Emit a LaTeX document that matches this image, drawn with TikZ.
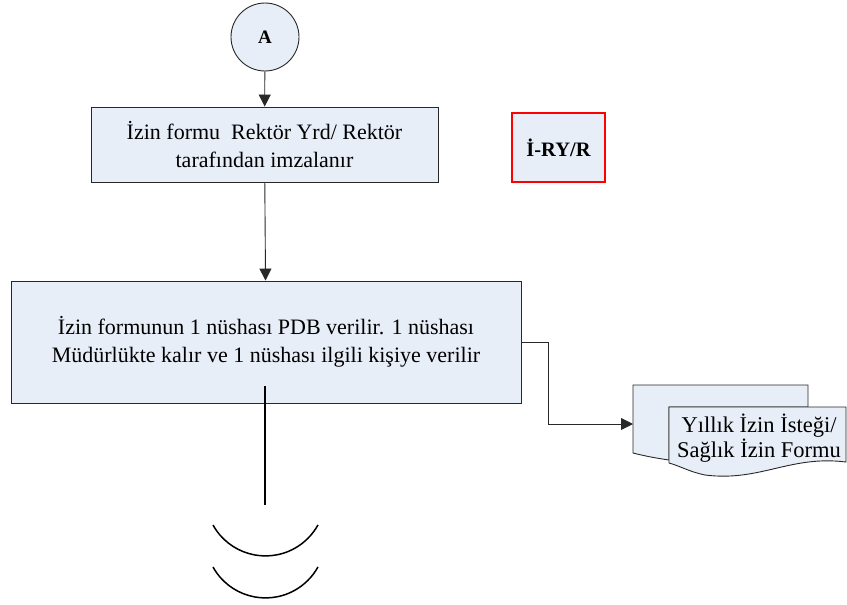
\documentclass[tikz,border=0pt]{standalone}
\usepackage{fontspec}
\setmainfont{Liberation Serif}
\usetikzlibrary{arrows.meta,calc}
\definecolor{boxfill}{RGB}{232,238,248}
\definecolor{lineclr}{RGB}{40,40,40}
\tikzset{
  x=1pt, y=-1pt,
  txt/.style={font=\fontsize{22}{27.5}\selectfont, align=center},
  procbox/.style={draw=lineclr, fill=boxfill, line width=0.9pt, inner sep=0pt, txt},
  redbox/.style={draw=red, fill=boxfill, line width=2.6pt, inner sep=0pt, font=\fontsize{20.5}{26}\selectfont\bfseries},
  conn/.style={draw=lineclr, line width=0.9pt, -{Triangle[length=12pt,width=12pt]}},
  plainline/.style={draw=black, line width=1.8pt},
  docshape/.style={draw=lineclr, fill=boxfill, line width=0.9pt},
}
\begin{document}
\begin{tikzpicture}
\useasboundingbox (0,0) rectangle (847,605);
% start connector
\node[circle, draw=lineclr, fill=boxfill, line width=0.9pt, minimum size=68pt, inner sep=0pt,
      font=\fontsize{19}{22}\selectfont\bfseries] (A) at (265,37) {A};
\node[procbox, minimum width=347pt, minimum height=75pt] (b1) at (264.5,144.5)
  {İzin formu\ \ Rektör Yrd/ Rektör\\tarafından imzalanır};
\node[redbox, minimum width=93pt, minimum height=69pt] (r) at (558.5,147.5) {İ-RY/R};
\node[procbox, minimum width=510pt, minimum height=122pt] (b2) at (266,342)
  {İzin formunun 1 nüshası PDB verilir. 1 nüshası\\Müdürlükte kalır ve 1 nüshası ilgili kişiye verilir};
% multi-document
\path[docshape] (633,385) -- (808,385) -- (808,407) -- (669,407) -- (669,460)
   .. controls (655,458) and (645,456) .. (633,453) -- cycle;
\path[docshape] (669,407) -- (846,407) -- (846,462)
   .. controls (790,455) and (760,482) .. (705,475)
   .. controls (690,472) and (680,466) .. (669,463) -- cycle;
\node[txt, font=\fontsize{22.5}{25}\selectfont] (doc) at (759,438) {Yıllık İzin İsteği/\\Sağlık İzin Formu};
\coordinate (docin) at (633,424);
% connectors
\draw[conn] (A) -- (b1);
\draw[conn] (b1) -- (b2);
\draw[conn] (b2.east) -- ++(27,0) |- (docin);
\coordinate (lineTop) at ($(b2.south)+(-1,-17)$);
\coordinate (lineEnd) at (265,505);
\draw[plainline] (lineTop) -- (lineEnd);
% continuation arcs
\draw[line width=1.5pt] (213,525) arc[start angle=151, end angle=29, radius=60];
\draw[line width=1.5pt] (213,567) arc[start angle=151, end angle=29, radius=60];
\end{tikzpicture}
\end{document}
